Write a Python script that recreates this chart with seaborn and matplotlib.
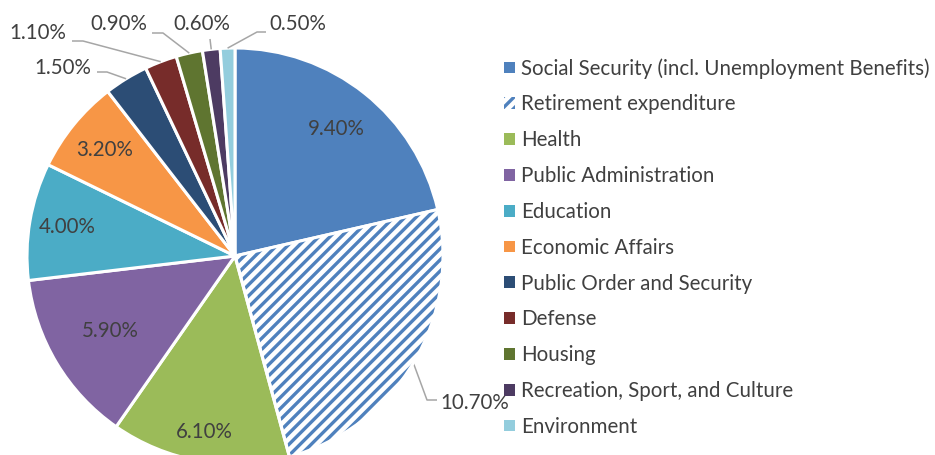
import matplotlib
matplotlib.use("Agg")
import matplotlib.pyplot as plt
from matplotlib.patches import Patch, Wedge
import numpy as np
import seaborn as sns

# data
categories = ["Social Security (incl. Unemployment Benefits)", "Retirement expenditure",
              "Health", "Public Administration", "Education", "Economic Affairs",
              "Public Order and Security", "Defense", "Housing",
              "Recreation, Sport, and Culture", "Environment"]
values = [9.4, 10.7, 6.1, 5.9, 4.0, 3.2, 1.5, 1.1, 0.9, 0.6, 0.5]
value_labels = ["9.40%", "10.70%", "6.10%", "5.90%", "4.00%", "3.20%",
                "1.50%", "1.10%", "0.90%", "0.60%", "0.50%"]
colors = ["#4F81BD", "#4F81BD", "#9BBB59", "#8064A2", "#4BACC6", "#F79646",
          "#2C4D75", "#772C2A", "#5F7530", "#4D3B62", "#93CDDD"]

sns.set_theme(style="white")
plt.rcParams["font.family"] = ["Lato", "DejaVu Sans"]
plt.rcParams["hatch.linewidth"] = 2.4
text_color = "#404040"
fs = 14.8

W, H = 935, 455
fig = plt.figure(figsize=(W / 100, H / 100), dpi=100)
ax = fig.add_axes([0, 0, 1, 1])

# pie placed in pixel coordinates (y up)
cx, cy, R = 235, H - 256, 208
wedges, _ = ax.pie(values, colors=colors, startangle=90, counterclock=False,
                   center=(cx, cy), radius=R,
                   wedgeprops=dict(edgecolor="white", linewidth=2.2))

# hatched retirement slice
hw = wedges[1]
hw.set_facecolor("white")
hw.set_edgecolor("#4F81BD")
hw.set_linewidth(0)
hw.set_hatch("///")
ax.add_patch(Wedge((cx, cy), R, hw.theta1, hw.theta2, facecolor="none",
                   edgecolor="white", linewidth=2.2, zorder=3))

ax.set_xlim(0, W)
ax.set_ylim(0, H)
ax.set_aspect("equal")
ax.axis("off")

# inside labels: radius fraction along mid angle
inside = {0: 0.78, 2: 0.86, 3: 0.70, 4: 0.82, 5: 0.81}
for i, frac in inside.items():
    w = wedges[i]
    a = np.deg2rad((w.theta1 + w.theta2) / 2)
    ax.text(cx + frac * R * np.cos(a), cy + frac * R * np.sin(a), value_labels[i],
            ha="center", va="center", fontsize=fs, color=text_color)

# outside labels with leader lines (image coords: text pos, ha, elbow, line end)
outside = {
    1: ((440, 403), "left", (427, 400), (437, 400)),
    6: ((91, 68), "right", (107, 72), (97, 72)),
    7: ((66, 33), "right", (83, 41), (72, 41)),
    8: ((147, 24), "right", (163, 33), (152, 33)),
    9: ((202, 24), "center", (210, 39), (210, 39)),
    10: ((269, 24), "left", (257, 32), (266, 32)),
}
for i, ((tx, ty), ha, (ex, ey), (lx, ly)) in outside.items():
    w = wedges[i]
    a = np.deg2rad((w.theta1 + w.theta2) / 2)
    px, py = cx + R * np.cos(a), cy + R * np.sin(a)
    ax.plot([px, ex, lx], [py, H - ey, H - ly], color="#A6A6A6", linewidth=1.1,
            solid_capstyle="butt")
    ax.text(tx, H - ty, value_labels[i], ha=ha, va="center", fontsize=fs,
            color=text_color)

handles = []
for i, (c, lab) in enumerate(zip(colors, categories)):
    if i == 1:
        handles.append(Patch(facecolor="white", edgecolor=c, linewidth=0,
                             hatch="///", label=lab))
    else:
        handles.append(Patch(facecolor=c, edgecolor="none", label=lab))

fig.legend(handles=handles, loc="center left",
           bbox_to_anchor=(496 / W, 1 - 247.5 / H), frameon=False,
           fontsize=fs, labelcolor=text_color, handlelength=0.5,
           handleheight=0.5, handletextpad=0.3, labelspacing=0.77,
           borderaxespad=0)

fig.savefig("out.png", dpi=100)
